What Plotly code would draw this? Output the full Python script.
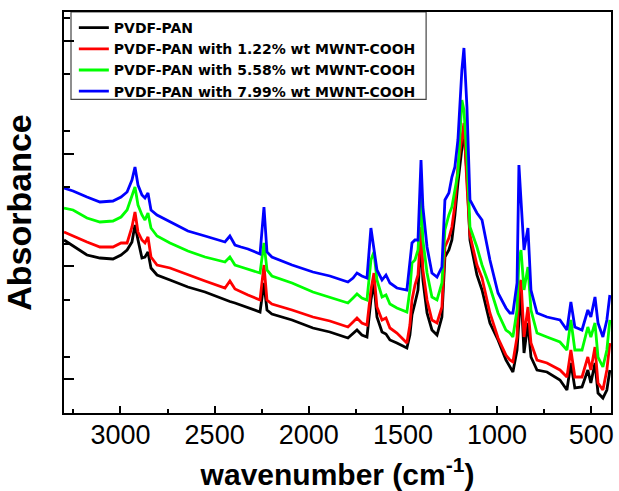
import plotly.graph_objects as go

# Wavenumber grid (cm^-1)
wavenumber = [3300, 3252, 3178, 3109, 3040, 2997, 2965, 2939, 2923, 2907,
              2886, 2870, 2854, 2838, 2806, 2737, 2642, 2551, 2445, 2419,
              2392, 2360, 2323, 2259, 2238, 2222, 2196, 2089, 1978, 1888,
              1792, 1765, 1744, 1718, 1691, 1670, 1654, 1638, 1611, 1590,
              1569, 1532, 1479, 1463, 1452, 1436, 1420, 1404, 1394, 1372,
              1346, 1319, 1293, 1277, 1256, 1240, 1224, 1208, 1187, 1176,
              1160, 1144, 1107, 1080, 1038, 995, 953, 932, 916, 894,
              884, 873, 857, 836, 820, 788, 735, 666, 629, 608,
              587, 549, 518, 502, 480, 464, 438, 417, 401]

pvdf_pan = [1.73, 1.67, 1.58, 1.55, 1.54, 1.58, 1.63, 1.71, 1.88, 1.73,
            1.55, 1.56, 1.61, 1.45, 1.38, 1.33, 1.26, 1.21, 1.13, 1.115,
            1.10, 1.08, 1.055, 1.01, 1.30, 1.03, 0.99, 0.93, 0.85, 0.81,
            0.75, 0.79, 0.83, 0.78, 0.76, 1.13, 1.30, 0.96, 0.81, 0.79,
            0.73, 0.70, 0.65, 0.78, 0.98, 1.10, 1.23, 1.73, 1.33, 1.00,
            0.83, 0.78, 0.96, 1.56, 1.63, 1.73, 1.98, 2.30, 2.63, 2.83,
            2.38, 1.73, 1.38, 1.23, 0.90, 0.73, 0.53, 0.46, 0.41, 0.63,
            0.93, 1.23, 0.60, 0.90, 0.56, 0.43, 0.41, 0.33, 0.23, 0.50,
            0.25, 0.26, 0.43, 0.30, 0.50, 0.20, 0.15, 0.23, 0.43]

mwnt_122 = [1.81, 1.77, 1.71, 1.66, 1.66, 1.70, 1.70, 1.86, 2.01, 1.81,
            1.73, 1.70, 1.76, 1.56, 1.48, 1.45, 1.38, 1.32, 1.25, 1.32,
            1.24, 1.21, 1.18, 1.13, 1.48, 1.13, 1.09, 1.03, 0.96, 0.92,
            0.86, 0.91, 0.95, 0.90, 0.88, 1.23, 1.40, 1.06, 0.93, 0.95,
            0.85, 0.80, 0.70, 0.88, 1.13, 1.28, 1.38, 1.86, 1.43, 1.13,
            0.93, 0.90, 1.06, 1.66, 1.75, 1.86, 2.08, 2.46, 2.78, 2.90,
            2.28, 1.78, 1.48, 1.35, 1.00, 0.75, 0.58, 0.53, 0.51, 0.76,
            1.28, 1.33, 0.76, 1.06, 0.70, 0.53, 0.50, 0.43, 0.36, 0.63,
            0.36, 0.36, 0.56, 0.43, 0.66, 0.30, 0.23, 0.43, 0.70]

mwnt_558 = [2.05, 2.03, 1.95, 1.91, 1.92, 1.96, 2.03, 2.16, 2.26, 2.08,
            1.98, 1.93, 2.00, 1.85, 1.77, 1.70, 1.62, 1.56, 1.51, 1.56,
            1.48, 1.46, 1.44, 1.40, 1.70, 1.43, 1.37, 1.30, 1.21, 1.16,
            1.10, 1.15, 1.19, 1.15, 1.13, 1.53, 1.61, 1.33, 1.16, 1.18,
            1.09, 1.05, 1.01, 1.23, 1.50, 1.53, 1.63, 2.16, 1.73, 1.40,
            1.16, 1.13, 1.30, 1.83, 1.98, 2.06, 2.23, 2.40, 3.13, 3.03,
            2.56, 1.86, 1.66, 1.48, 1.26, 1.00, 0.83, 0.80, 0.76, 1.03,
            1.53, 1.63, 1.23, 1.46, 1.03, 0.80, 0.76, 0.71, 0.63, 0.93,
            0.63, 0.63, 0.86, 0.76, 0.90, 0.56, 0.46, 0.63, 0.93]

mwnt_799 = [2.25, 2.22, 2.16, 2.11, 2.12, 2.16, 2.21, 2.33, 2.46, 2.28,
            2.18, 2.15, 2.20, 2.03, 1.98, 1.91, 1.82, 1.77, 1.71, 1.77,
            1.68, 1.66, 1.64, 1.59, 2.06, 1.61, 1.56, 1.48, 1.41, 1.37,
            1.31, 1.35, 1.40, 1.37, 1.35, 1.85, 1.63, 1.43, 1.33, 1.38,
            1.30, 1.25, 1.23, 1.50, 1.70, 1.73, 1.73, 2.53, 2.06, 1.66,
            1.40, 1.36, 1.46, 2.13, 2.20, 2.36, 2.46, 2.73, 3.43, 3.65,
            3.06, 2.13, 2.00, 1.93, 1.53, 1.20, 1.05, 1.00, 1.00, 1.30,
            2.48, 2.13, 1.63, 1.85, 1.23, 1.00, 0.96, 0.93, 0.83, 1.11,
            0.86, 0.83, 1.03, 0.96, 1.16, 0.90, 0.76, 0.93, 1.18]

series_names = ["PVDF-PAN",
                "PVDF-PAN with 1.22% wt MWNT-COOH",
                "PVDF-PAN with 5.58% wt MWNT-COOH",
                "PVDF-PAN with 7.99% wt MWNT-COOH"]
series_values = [pvdf_pan, mwnt_122, mwnt_558, mwnt_799]
series_colors = ["#000000", "#ff0000", "#00ff00", "#0000ff"]

FONT = "Arial, 'Liberation Sans', sans-serif"
LEGEND_FONT = "'DejaVu Sans', Arial, sans-serif"

fig = go.Figure()
for name, vals, col in zip(series_names, series_values, series_colors):
    fig.add_trace(go.Scatter(x=wavenumber, y=vals, mode="lines", name=name,
                             line=dict(color=col, width=2.8)))

fig.update_layout(
    width=619, height=491,
    margin=dict(l=64, r=8, t=12, b=78, autoexpand=False),
    paper_bgcolor="white", plot_bgcolor="white",
    showlegend=True,
    legend=dict(x=0.018, y=1.0, xanchor="left", yanchor="top",
                bgcolor="rgba(0,0,0,0)", borderwidth=0,
                font=dict(family=LEGEND_FONT, size=14, color="black", weight="bold"),
                tracegroupgap=0),
    font=dict(family=FONT, color="black"),
    shapes=[dict(type="rect", xref="paper", yref="paper",
                 x0=0.0128, x1=0.662, y0=0.782, y1=1.0,
                 line=dict(color="#444", width=1.2), fillcolor="rgba(0,0,0,0)",
                 layer="below")],
)

fig.update_xaxes(
    range=[3300, 395], autorange=False, automargin=False,
    showgrid=False, zeroline=False,
    showline=True, linecolor="black", linewidth=2, mirror=True,
    ticks="inside", ticklen=7, tickwidth=2, tickcolor="black",
    tick0=0, dtick=500,
    minor=dict(ticks="inside", ticklen=4, tickwidth=2, tickcolor="black", dtick=250),
    tickfont=dict(family=FONT, size=27, color="black"),
    ticklabelstandoff=-3,
    title=dict(text="<b>wavenumber (cm<sup>-1</sup>)</b>",
               font=dict(family=FONT, size=30, color="black"), standoff=16),
)

fig.update_yaxes(
    range=[0, 4.01], autorange=False, automargin=False,
    showgrid=False, zeroline=False,
    showline=True, linecolor="black", linewidth=2, mirror=True,
    ticks="inside", ticklen=10, tickwidth=2, tickcolor="black",
    tick0=0.337, dtick=1.1287,
    minor=dict(ticks="inside", ticklen=6, tickwidth=2, tickcolor="black", dtick=0.56435),
    showticklabels=False,
    title=dict(text="<b>Absorbance</b>",
               font=dict(family=FONT, size=34, color="black"), standoff=27),
)

fig.write_html("out.html", config={"displayModeBar": False},
               post_script="document.body.style.margin='0';")
